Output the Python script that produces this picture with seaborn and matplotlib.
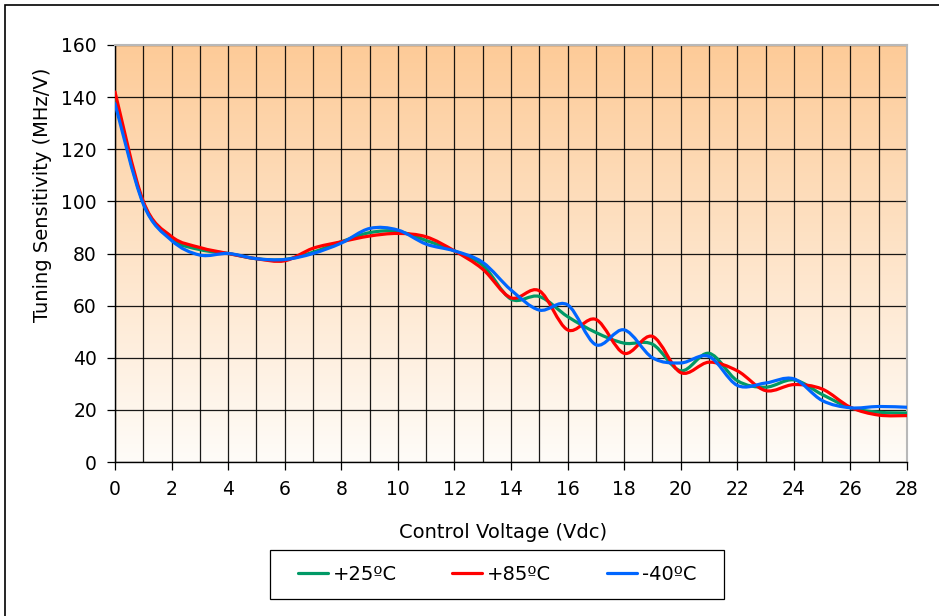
import numpy as np
import pandas as pd
import matplotlib
matplotlib.use('Agg')
import matplotlib.pyplot as plt
from matplotlib.path import Path
from matplotlib.patches import PathPatch, Rectangle
from matplotlib.colors import LinearSegmentedColormap
import seaborn as sns

# Data (control voltage 0..28 Vdc)
voltage = list(range(0, 29))
sens_25 = [139, 99.5, 85.5, 81.5, 80, 78, 77.7, 80.5, 84.5, 88, 88.5, 85, 81, 75.5, 62.5,
           63.5, 55.8, 49.7, 45.6, 45.2, 35, 41.7, 31.2, 28.7, 31.5, 25.9, 20.8, 19.1, 18.8]
sens_85 = [142, 100, 86.5, 82.3, 80, 78, 77.2, 82, 84.5, 86.7, 87.7, 86.4, 81, 74, 63,
           65.7, 50.7, 54.7, 41.7, 48.2, 34.3, 38.3, 35, 27.4, 29.7, 28, 21, 18, 17.8]
sens_m40 = [137.5, 99, 85, 79.4, 80, 78, 77.7, 80, 84, 89.6, 89, 83.6, 81, 76.6, 66,
            58.3, 60.3, 45, 50.7, 40, 38, 40.5, 29.4, 30.3, 31.9, 23.6, 20.8, 21.3, 21]
series_names = ['+25ºC', '+85ºC', '-40ºC']
colors = ['#009966', '#FF0000', '#0066FF']

df = pd.concat([
    pd.DataFrame({'Voltage': voltage, 'Sensitivity': vals, 'Temp': name})
    for name, vals in zip(series_names, [sens_25, sens_85, sens_m40])
])

sns.set_style('white')
plt.rcParams['font.family'] = ['DejaVu Sans']
plt.rcParams['text.color'] = 'black'
plt.rcParams['axes.labelcolor'] = 'black'
plt.rcParams['xtick.color'] = 'black'
plt.rcParams['ytick.color'] = 'black'

fig = plt.figure(figsize=(9.39, 6.16), dpi=100)
ax = fig.add_axes([115 / 939, 1 - 462 / 616, (907 - 115) / 939, (462 - 45) / 616])

# peach gradient background
cmap = LinearSegmentedColormap.from_list('peach', ['#FFFCF8', '#FDCB98'])
grad = np.linspace(0, 1, 256).reshape(-1, 1)
ax.imshow(grad, extent=[0, 28, 0, 160], origin='lower', aspect='auto', cmap=cmap, zorder=0)

sns.lineplot(data=df, x='Voltage', y='Sensitivity', hue='Temp', palette=colors,
             linewidth=2.3, ax=ax, zorder=3)

# Excel-style smoothed lines (Bezier through the data points)
def smooth_path(x, y):
    pts = np.column_stack([x, y])
    verts = [pts[0]]
    codes = [Path.MOVETO]
    n = len(pts)
    for i in range(n - 1):
        p0 = pts[max(i - 1, 0)]
        p1 = pts[i]
        p2 = pts[i + 1]
        p3 = pts[min(i + 2, n - 1)]
        c1 = p1 + (p2 - p0) / 6
        c2 = p2 - (p3 - p1) / 6
        verts += [c1, c2, p2]
        codes += [Path.CURVE4] * 3
    return Path(verts, codes)

for line in list(ax.lines):
    x, y = line.get_xdata(), line.get_ydata()
    if len(x) < 2:
        continue
    ax.add_patch(PathPatch(smooth_path(np.asarray(x, float), np.asarray(y, float)),
                           facecolor='none', edgecolor=line.get_color(),
                           linewidth=2.3, zorder=3, capstyle='round', joinstyle='round'))
    line.set_visible(False)

leg = ax.get_legend()
handles = leg.legend_handles
labels = [t.get_text() for t in leg.get_texts()]
leg.remove()
for h in handles:
    h.set_linewidth(2.3)
fig.legend(handles, labels, loc='center left', bbox_to_anchor=(288 / 939, 1 - 574 / 616),
           ncol=3, frameon=False, fontsize=14, borderpad=0,
           handlelength=1.55, handletextpad=0.25, columnspacing=2.85)
# legend box
fig.patches.append(Rectangle((270 / 939, 1 - 599 / 616), (724 - 270) / 939, 49 / 616,
                             transform=fig.transFigure, fill=False,
                             edgecolor='black', linewidth=0.9))

ax.set_xlim(0, 28)
ax.set_ylim(0, 160)
ax.set_xticks(range(0, 29, 2))
ax.set_xticks(range(1, 29, 2), minor=True)
ax.set_yticks(range(0, 161, 20))
ax.grid(which='both', axis='x', color='black', linewidth=0.9, alpha=0.9)
ax.grid(which='major', axis='y', color='black', linewidth=0.9, alpha=0.9)
for l in ax.get_xgridlines() + ax.get_ygridlines() + ax.xaxis.get_minorticklines():
    l.set_zorder(1)

ax.tick_params(axis='both', which='major', direction='out', length=6, width=0.9,
               color='black', labelsize=13.5, pad=7, bottom=True, left=True)
ax.tick_params(axis='x', which='minor', length=0)

for s in ['left', 'bottom']:
    ax.spines[s].set_color('black')
    ax.spines[s].set_linewidth(1)
for s in ['top', 'right']:
    ax.spines[s].set_color('#b8b8b8')
    ax.spines[s].set_linewidth(1.5)

ax.set_xlabel('Control Voltage (Vdc)', fontsize=14)
ax.xaxis.set_label_coords(503 / 939, 1 - 532 / 616, transform=fig.transFigure)
ax.set_ylabel('Tuning Sensitivity (MHz/V)', fontsize=14)
ax.yaxis.set_label_coords(43 / 939, 1 - 195 / 616, transform=fig.transFigure)
ax.xaxis.label.set_va('center')
ax.yaxis.label.set_va('center')

# outer chart border
fig.patches.append(Rectangle((5 / 939, -0.05), 1.1, 1.05 - 5 / 616, transform=fig.transFigure,
                             fill=False, edgecolor='black', linewidth=1.2))

fig.savefig('out.png', dpi=100)
